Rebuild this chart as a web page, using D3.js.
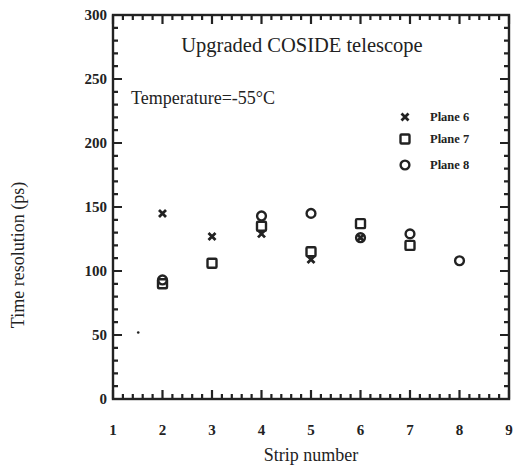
<!DOCTYPE html>
<html>
<head>
<meta charset="utf-8">
<script src="https://cdn.jsdelivr.net/npm/d3@7"></script>
<style>
  body { margin: 0; background: #fff; }
  svg { display: block; }
  text { font-family: "Liberation Serif", "DejaVu Serif", serif; fill: #222; }
</style>
</head>
<body>
<svg id="chart" width="518" height="472"></svg>
<script>
// data
var plane6Strips = [2, 3, 4, 5, 6];
var plane6Values = [145, 127, 129, 109, 126];
var plane7Strips = [2, 3, 4, 5, 6, 7];
var plane7Values = [90, 106, 135, 115, 137, 120];
var plane8Strips = [2, 4, 5, 6, 7, 8];
var plane8Values = [93, 143, 145, 126, 129, 108];
var strayStrips = [1.51];   // scan speck near (1.5, 52)
var strayValues = [52];
var xTicks = [1, 2, 3, 4, 5, 6, 7, 8, 9];
var yTicks = [0, 50, 100, 150, 200, 250, 300];
var xMinorTicks = [1.2, 1.4, 1.6, 1.8, 2.2, 2.4, 2.6, 2.8, 3.2, 3.4, 3.6, 3.8,
                   4.2, 4.4, 4.6, 4.8, 5.2, 5.4, 5.6, 5.8, 6.2, 6.4, 6.6, 6.8,
                   7.2, 7.4, 7.6, 7.8, 8.2, 8.4, 8.6, 8.8];
var yMinorTicks = [10, 20, 30, 40, 60, 70, 80, 90, 110, 120, 130, 140,
                   160, 170, 180, 190, 210, 220, 230, 240, 260, 270, 280, 290];
var legendNames = ['Plane 6', 'Plane 7', 'Plane 8'];
var legendShapes = ['cross', 'square', 'circle'];

var ink = '#222';
var m = {left: 113, right: 509, top: 15, bottom: 399};

var x = d3.scaleLinear().domain([1, 9]).range([m.left, m.right]);
var y = d3.scaleLinear().domain([0, 300]).range([m.bottom, m.top]);

var svg = d3.select('#chart');

function zip(xs, ys) {
    return xs.map(function(v, i) { return {x: v, y: ys[i]}; });
}

svg.append('rect')
    .attr('x', m.left).attr('y', m.top)
    .attr('width', m.right - m.left).attr('height', m.bottom - m.top)
    .style('fill', 'none').style('stroke', ink).style('stroke-width', 2.4);

// tick labels
svg.append('g').selectAll('text').data(xTicks).enter().append('text')
    .attr('x', x).attr('y', 435)
    .attr('text-anchor', 'middle')
    .style('font-size', '15px').style('font-weight', 'bold')
    .text(function(d) { return d; });

svg.append('g').selectAll('text').data(yTicks).enter().append('text')
    .attr('x', 107).attr('y', function(d) { return y(d) + 5; })
    .attr('text-anchor', 'end')
    .style('font-size', '15px').style('font-weight', 'bold')
    .text(function(d) { return d; });

// axis titles
svg.append('text').attr('x', 311).attr('y', 461)
    .attr('text-anchor', 'middle').style('font-size', '18px')
    .text('Strip number');

svg.append('text')
    .attr('transform', 'translate(24,255) rotate(-90)')
    .attr('text-anchor', 'middle').style('font-size', '18px')
    .text('Time resolution (ps)');

// annotations
svg.append('text').attr('x', 302).attr('y', 52)
    .attr('text-anchor', 'middle').style('font-size', '20.5px')
    .text('Upgraded COSIDE telescope');

svg.append('text').attr('x', 131).attr('y', 104)
    .style('font-size', '18px')
    .text('Temperature=-55\u00B0C');

// markers
function drawShape(g, shape) {
    if (shape === 'cross') {
        g.append('path').attr('d', 'M-3.5,-3.5L3.5,3.5M-3.5,3.5L3.5,-3.5')
            .style('stroke', ink).style('stroke-width', 2.8).style('fill', 'none');
    } else if (shape === 'square') {
        g.append('rect').attr('x', -4.5).attr('y', -4.5)
            .attr('width', 9).attr('height', 9).attr('rx', 1)
            .style('stroke', ink).style('stroke-width', 2.4).style('fill', 'none');
    } else {
        g.append('circle').attr('r', 4.4)
            .style('stroke', ink).style('stroke-width', 2.4).style('fill', 'none');
    }
}

var series = [
    {pts: zip(plane6Strips, plane6Values), shape: 'cross'},
    {pts: zip(plane7Strips, plane7Values), shape: 'square'},
    {pts: zip(plane8Strips, plane8Values), shape: 'circle'}
];

series.forEach(function(s) {
    svg.append('g').selectAll('g').data(s.pts).enter().append('g')
        .attr('transform', function(d) { return 'translate(' + x(d.x) + ',' + y(d.y) + ')'; })
        .each(function() { drawShape(d3.select(this), s.shape); });
});

svg.append('g').selectAll('circle').data(zip(strayStrips, strayValues)).enter()
    .append('circle')
    .attr('cx', function(d) { return x(d.x); })
    .attr('cy', function(d) { return y(d.y); })
    .attr('r', 1.3).style('fill', ink);

// legend
var legendY = [117, 139, 165];
legendNames.forEach(function(name, i) {
    var g = svg.append('g').attr('transform', 'translate(405,' + legendY[i] + ')');
    drawShape(g, legendShapes[i]);
    g.append('text').attr('x', 25).attr('y', 4)
        .style('font-size', '12.5px').style('font-weight', 'bold')
        .text(name);
});

// inward ticks on all four sides, drawn last so nothing covers them
function tickPath(xv, yv, lenX, lenY) {
    var p = '';
    xv.forEach(function(d) {
        var px = x(d).toFixed(1);
        p += 'M' + px + ',' + m.bottom + 'V' + (m.bottom - lenX);
        p += 'M' + px + ',' + m.top + 'V' + (m.top + lenX);
    });
    yv.forEach(function(d) {
        var py = y(d).toFixed(1);
        p += 'M' + m.left + ',' + py + 'H' + (m.left + lenY);
        p += 'M' + m.right + ',' + py + 'H' + (m.right - lenY);
    });
    return p;
}
svg.append('path').attr('d', tickPath(xMinorTicks, yMinorTicks, 5, 5))
    .style('fill', 'none').style('stroke', ink).style('stroke-width', 2.2);
svg.append('path').attr('d', tickPath(xTicks, yTicks, 9, 9))
    .style('fill', 'none').style('stroke', ink).style('stroke-width', 2.2);
</script>
</body>
</html>
